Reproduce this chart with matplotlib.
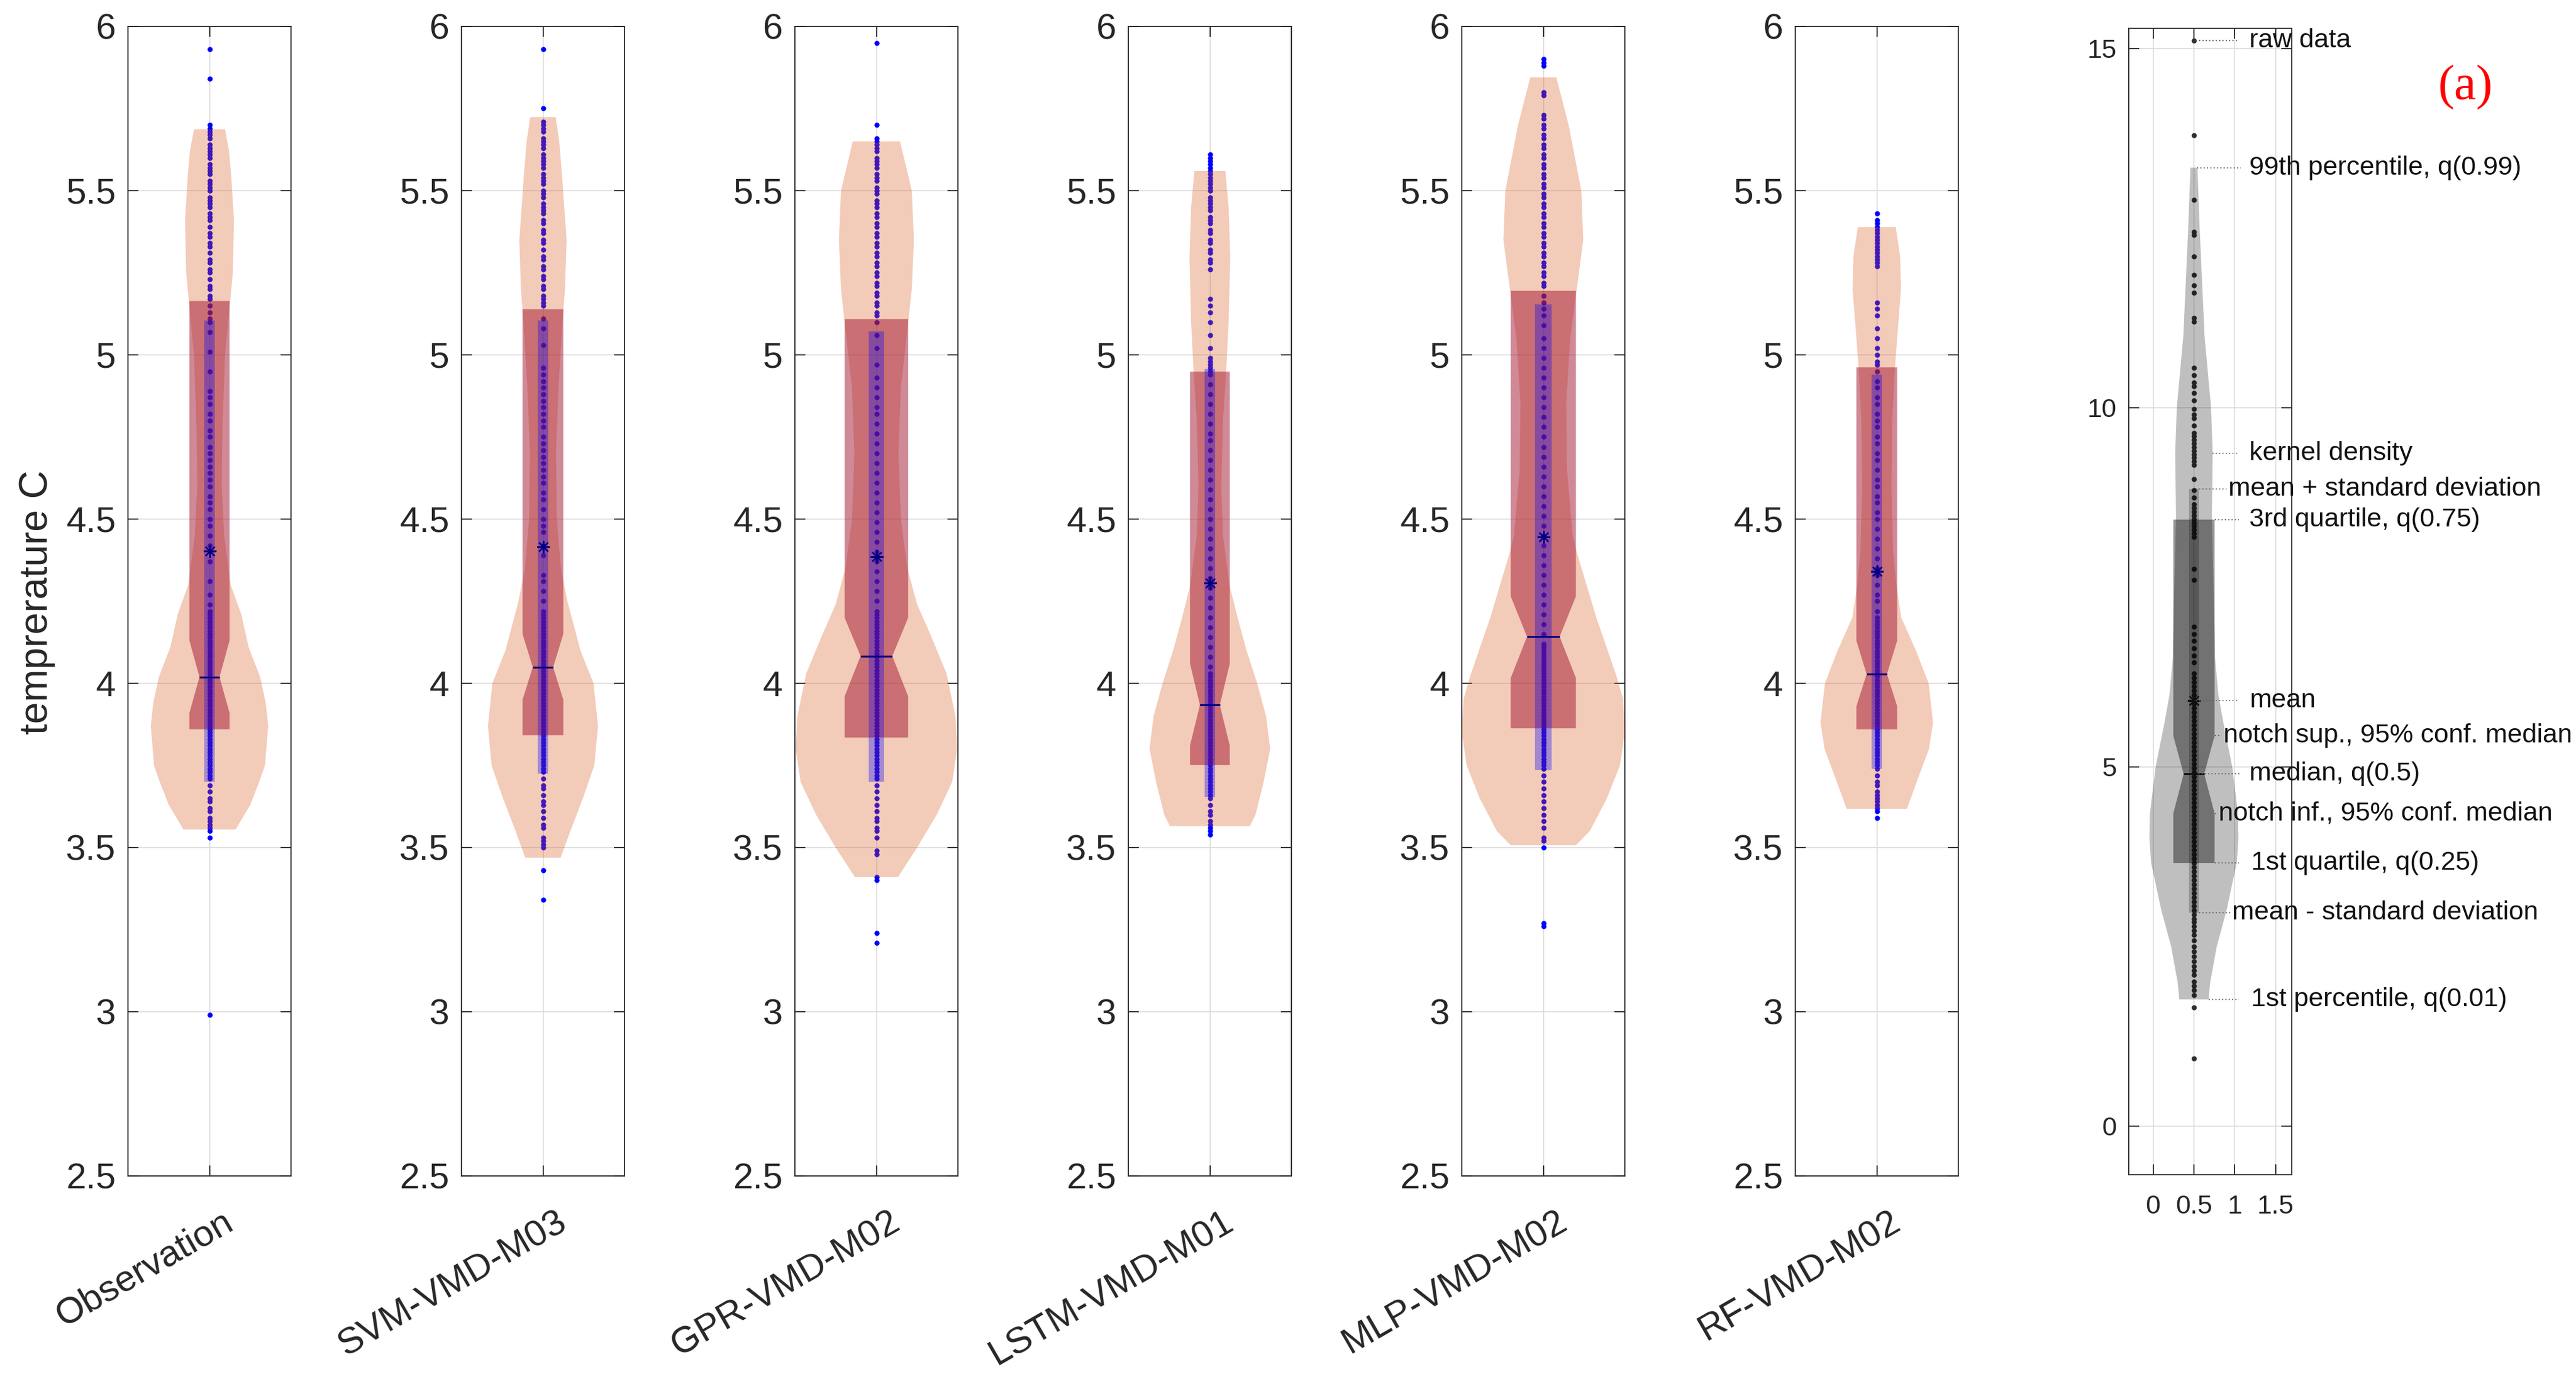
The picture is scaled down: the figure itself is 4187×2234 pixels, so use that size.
import numpy as np
import matplotlib.pyplot as plt
from matplotlib.ticker import FuncFormatter
from matplotlib.transforms import ScaledTranslation

plt.rcParams['font.family'] = ['Liberation Sans', 'DejaVu Sans']

models = ['Observation', 'SVM-VMD-M03', 'GPR-VMD-M02', 'LSTM-VMD-M01', 'MLP-VMD-M02', 'RF-VMD-M02']

# box statistics
q75 = [5.164, 5.139, 5.109, 4.949, 5.195, 4.962]
q25 = [3.860, 3.842, 3.835, 3.751, 3.863, 3.860]
medians = [4.019, 4.049, 4.083, 3.934, 4.142, 4.028]
notch_hi = [4.13, 4.15, 4.20, 4.06, 4.265, 4.13]
notch_lo = [3.91, 3.95, 3.96, 3.81, 4.016, 3.93]
means = [4.402, 4.415, 4.386, 4.305, 4.445, 4.340]
stds = [0.702, 0.690, 0.686, 0.652, 0.709, 0.600]

# kernel density outline: levels and half widths
violin_levels = [
    [5.687, 5.62, 5.55, 5.41, 5.25, 5.17, 5.0, 4.77, 4.6, 4.45, 4.3, 4.21, 4.11, 4.02, 3.94, 3.87, 3.75, 3.7, 3.63, 3.555],
    [5.724, 5.65, 5.55, 5.35, 5.2, 5.1, 4.9, 4.7, 4.5, 4.35, 4.25, 4.1, 4.0, 3.87, 3.75, 3.65, 3.55, 3.469],
    [5.65, 5.5, 5.35, 5.2, 5.1, 4.9, 4.7, 4.5, 4.35, 4.24, 4.15, 4.03, 3.9, 3.8, 3.7, 3.6, 3.5, 3.41],
    [5.56, 5.45, 5.3, 5.1, 4.95, 4.8, 4.6, 4.45, 4.3, 4.2, 4.1, 4.0, 3.9, 3.8, 3.7, 3.6, 3.565],
    [5.845, 5.7, 5.5, 5.35, 5.2, 5.05, 4.85, 4.65, 4.45, 4.4, 4.3, 4.2, 4.1, 4.02, 3.95, 3.85, 3.75, 3.65, 3.55, 3.507],
    [5.389, 5.3, 5.2, 5.1, 4.95, 4.8, 4.6, 4.4, 4.3, 4.2, 4.1, 4.0, 3.88, 3.8, 3.7, 3.618],
]
violin_halfwidth = [
    [0.19, 0.24, 0.265, 0.30, 0.286, 0.256, 0.19, 0.158, 0.15, 0.18, 0.26, 0.39, 0.48, 0.62, 0.69, 0.72, 0.68, 0.61, 0.50, 0.32],
    [0.156, 0.2, 0.233, 0.29, 0.27, 0.24, 0.19, 0.16, 0.17, 0.22, 0.3, 0.46, 0.62, 0.675, 0.63, 0.49, 0.336, 0.217],
    [0.29, 0.434, 0.46, 0.434, 0.39, 0.3, 0.27, 0.3, 0.38, 0.5, 0.66, 0.86, 0.97, 0.99, 0.93, 0.74, 0.50, 0.265],
    [0.19, 0.23, 0.25, 0.23, 0.2, 0.16, 0.14, 0.16, 0.24, 0.34, 0.45, 0.58, 0.69, 0.74, 0.66, 0.56, 0.49],
    [0.16, 0.31, 0.466, 0.49, 0.41, 0.33, 0.28, 0.29, 0.36, 0.41, 0.53, 0.65, 0.79, 0.9, 0.98, 1.0, 0.94, 0.78, 0.57, 0.40],
    [0.233, 0.286, 0.297, 0.265, 0.22, 0.19, 0.18, 0.2, 0.24, 0.3, 0.48, 0.636, 0.69, 0.64, 0.49, 0.37],
]

# raw data points (temperature, C)
obs_pts = [5.93, 5.84,
           5.70, 5.69, 5.68, 5.67, 5.66, 5.64, 5.63, 5.62, 5.61, 5.60, 5.58, 5.57, 5.56, 5.55, 5.53, 5.52, 5.51, 5.50,
           5.48, 5.47, 5.46, 5.45, 5.43, 5.42, 5.41, 5.39, 5.37, 5.36, 5.34, 5.33, 5.31, 5.29, 5.28, 5.26, 5.25, 5.23,
           5.21, 5.20, 5.18, 5.17, 5.15, 5.13, 5.11,
           5.10, 5.07, 5.01, 4.95, 4.89, 4.87, 4.85, 4.82, 4.80, 4.77, 4.75, 4.72, 4.70, 4.68, 4.66, 4.64, 4.62, 4.60,
           4.57, 4.55, 4.53, 4.50, 4.48, 4.45, 4.42, 4.37, 4.31, 4.27, 4.24,
           4.22, 4.21, 4.20, 4.19, 4.18, 4.17, 4.16, 4.15, 4.14, 4.13, 4.12, 4.11, 4.10, 4.09, 4.08, 4.07, 4.06, 4.05,
           4.04, 4.03, 4.02, 4.01, 4.00, 3.99, 3.98, 3.97, 3.96, 3.95, 3.94, 3.93, 3.92, 3.91, 3.90, 3.89, 3.88, 3.87,
           3.86, 3.85, 3.84, 3.83, 3.82, 3.81, 3.80, 3.79, 3.78, 3.77, 3.76, 3.75, 3.74, 3.73, 3.72, 3.71,
           3.69, 3.67, 3.65, 3.64, 3.62, 3.61, 3.59, 3.58, 3.57, 3.56, 3.55, 3.53, 2.99]
svm_pts = [5.93, 5.75,
           5.71, 5.70, 5.69, 5.68, 5.66, 5.65, 5.64, 5.63, 5.61, 5.60, 5.59, 5.58, 5.57, 5.55, 5.54, 5.53, 5.52, 5.50,
           5.49, 5.48, 5.46, 5.45, 5.44, 5.43, 5.41, 5.40, 5.38, 5.37, 5.35, 5.34, 5.32, 5.30, 5.29, 5.27, 5.26, 5.24,
           5.23, 5.21, 5.20, 5.18, 5.17, 5.16, 5.15,
           5.11, 5.08, 5.03, 4.96, 4.94, 4.92, 4.90, 4.88, 4.86, 4.84, 4.82, 4.80, 4.78, 4.75, 4.73, 4.71, 4.69, 4.67,
           4.65, 4.63, 4.61, 4.58, 4.56, 4.53, 4.50, 4.48, 4.46, 4.42, 4.39, 4.33, 4.31, 4.28, 4.25,
           4.22, 4.21, 4.20, 4.19, 4.18, 4.17, 4.16, 4.15, 4.14, 4.13, 4.12, 4.11, 4.10, 4.09, 4.08, 4.07, 4.06, 4.05,
           4.04, 4.03, 4.02, 4.01, 4.00, 3.99, 3.98, 3.97, 3.96, 3.95, 3.94, 3.93, 3.92, 3.91, 3.90, 3.89, 3.88, 3.87,
           3.86, 3.85, 3.84, 3.83, 3.82, 3.81, 3.80, 3.79, 3.78, 3.77, 3.76, 3.75, 3.74, 3.73,
           3.71, 3.69, 3.68, 3.66, 3.64, 3.63, 3.61, 3.59, 3.57, 3.56, 3.53, 3.52, 3.51, 3.50, 3.43, 3.34]
gpr_pts = [5.95, 5.70, 5.66,
           5.65, 5.64, 5.63, 5.62, 5.60, 5.59, 5.58, 5.57, 5.55, 5.54, 5.53, 5.51, 5.50, 5.49, 5.47, 5.46, 5.45, 5.43,
           5.42, 5.40, 5.39, 5.37, 5.36, 5.34, 5.33, 5.31, 5.30, 5.28, 5.27, 5.25, 5.24, 5.22, 5.21, 5.19, 5.18, 5.16,
           5.15, 5.13, 5.12, 5.10,
           5.06, 5.02, 4.97, 4.93, 4.90, 4.87, 4.84, 4.82, 4.79, 4.76, 4.73, 4.70, 4.67, 4.64, 4.61, 4.58, 4.55, 4.52,
           4.49, 4.46, 4.43, 4.40, 4.37, 4.34, 4.31, 4.28, 4.25,
           4.22, 4.21, 4.20, 4.19, 4.18, 4.17, 4.16, 4.15, 4.14, 4.13, 4.12, 4.11, 4.10, 4.09, 4.08, 4.07, 4.06, 4.05,
           4.04, 4.03, 4.02, 4.01, 4.00, 3.99, 3.98, 3.97, 3.96, 3.95, 3.94, 3.93, 3.92, 3.91, 3.90, 3.89, 3.88, 3.87,
           3.86, 3.85, 3.84, 3.83, 3.82, 3.81, 3.80, 3.79, 3.78, 3.77, 3.76, 3.75, 3.74, 3.73, 3.72, 3.71,
           3.69, 3.67, 3.65, 3.63, 3.61, 3.59, 3.58, 3.56, 3.55, 3.53, 3.49, 3.48, 3.41, 3.40, 3.24, 3.21]
lstm_pts = [5.61, 5.60, 5.59, 5.58, 5.57, 5.56, 5.55, 5.54, 5.53, 5.52, 5.51, 5.50, 5.48, 5.47, 5.46, 5.45, 5.44,
            5.42, 5.41, 5.40, 5.38, 5.37, 5.35, 5.34, 5.32, 5.31, 5.29, 5.28, 5.26,
            5.17, 5.15, 5.13, 5.10, 5.06, 5.02, 4.99, 4.98, 4.97, 4.96, 4.95, 4.94,
            4.91, 4.88, 4.85, 4.82, 4.79, 4.76, 4.74, 4.71, 4.68, 4.65, 4.62, 4.59, 4.56, 4.53, 4.50, 4.47, 4.44, 4.41,
            4.38, 4.35, 4.32, 4.29, 4.26, 4.23, 4.20, 4.17, 4.14, 4.11, 4.08, 4.05,
            4.03, 4.02, 4.01, 4.00, 3.99, 3.98, 3.97, 3.96, 3.95, 3.94, 3.93, 3.92, 3.91, 3.90, 3.89, 3.88, 3.87, 3.86,
            3.85, 3.84, 3.83, 3.82, 3.81, 3.80, 3.79, 3.78, 3.77, 3.76, 3.75, 3.74, 3.73, 3.72, 3.71, 3.70, 3.69, 3.68,
            3.67, 3.66, 3.65,
            3.63, 3.61, 3.60, 3.58, 3.57, 3.56, 3.55, 3.54]
mlp_pts = [5.90, 5.89, 5.88, 5.80, 5.79,
           5.73, 5.72, 5.70, 5.69, 5.67, 5.66, 5.64, 5.63, 5.61, 5.60, 5.58, 5.57, 5.55, 5.54, 5.52, 5.51, 5.49, 5.48,
           5.46, 5.45, 5.43, 5.42, 5.40, 5.39, 5.37, 5.36, 5.34, 5.33, 5.31, 5.30, 5.28, 5.27, 5.25, 5.24, 5.22, 5.21,
           5.18, 5.16, 5.14, 5.12, 5.09, 5.05, 5.02, 4.99, 4.96, 4.93, 4.90, 4.87, 4.84, 4.81, 4.78, 4.75, 4.72, 4.69,
           4.66, 4.63, 4.60, 4.57, 4.54, 4.51, 4.48, 4.45, 4.42, 4.39, 4.36, 4.33, 4.30, 4.27, 4.24, 4.21, 4.18, 4.15,
           4.12, 4.11, 4.10, 4.09, 4.08, 4.07, 4.06, 4.05, 4.04, 4.03, 4.02, 4.01, 4.00, 3.99, 3.98, 3.97, 3.96, 3.95,
           3.94, 3.93, 3.92, 3.91, 3.90, 3.89, 3.88, 3.87, 3.86, 3.85, 3.84, 3.83, 3.82, 3.81, 3.80, 3.79, 3.78, 3.77,
           3.76, 3.75, 3.74,
           3.72, 3.70, 3.68, 3.66, 3.64, 3.62, 3.60, 3.58, 3.56, 3.53, 3.52, 3.50, 3.27, 3.26]
rf_pts = [5.43, 5.41, 5.40, 5.39, 5.38, 5.37, 5.36, 5.35, 5.34, 5.33, 5.32, 5.31, 5.30, 5.29, 5.28, 5.27,
          5.16, 5.14, 5.12, 5.08, 5.05, 5.02, 5.00, 4.98, 4.97, 4.95,
          4.92, 4.90, 4.87, 4.85, 4.82, 4.80, 4.78, 4.75, 4.73, 4.70, 4.68, 4.65, 4.62, 4.60, 4.57, 4.55, 4.52, 4.50,
          4.47, 4.44, 4.41, 4.38, 4.35, 4.33, 4.30, 4.27, 4.25, 4.22,
          4.20, 4.19, 4.18, 4.17, 4.16, 4.15, 4.14, 4.13, 4.12, 4.11, 4.10, 4.09, 4.08, 4.07, 4.06, 4.05, 4.04, 4.03,
          4.02, 4.01, 4.00, 3.99, 3.98, 3.97, 3.96, 3.95, 3.94, 3.93, 3.92, 3.91, 3.90, 3.89, 3.88, 3.87, 3.86, 3.85,
          3.84, 3.83, 3.82, 3.81, 3.80, 3.79, 3.78, 3.77, 3.76, 3.75, 3.74,
          3.72, 3.70, 3.69, 3.67, 3.66, 3.65, 3.64, 3.63, 3.62, 3.61, 3.59]
points = [obs_pts, svm_pts, gpr_pts, lstm_pts, mlp_pts, rf_pts]

# legend example panel (gray)
demo_pts = [15.11, 13.79, 12.89, 12.45, 12.40, 12.10, 11.85, 11.70, 11.60, 11.25, 11.20, 10.55, 10.45, 10.35,
            10.30, 10.20, 10.10, 9.98, 9.90, 9.85, 9.75, 9.65, 9.60, 9.55, 9.50, 9.45, 9.40, 9.35, 9.30, 9.25,
            9.20, 9.00, 8.85, 8.75, 8.65, 8.60, 8.55, 8.50, 8.45, 8.40, 8.35, 8.30, 8.25, 8.20, 7.75, 7.60, 6.95,
            6.85, 6.75, 6.65, 6.55, 6.45, 6.30,
            6.24, 6.18, 6.12, 6.06, 6.00, 5.94, 5.88, 5.82, 5.76, 5.70, 5.64, 5.58, 5.52, 5.46, 5.40, 5.34, 5.28,
            5.22, 5.16, 5.10, 5.04, 4.98, 4.92, 4.86, 4.80, 4.74, 4.68, 4.62, 4.56, 4.50, 4.44, 4.38, 4.32, 4.26,
            4.20, 4.14, 4.08, 4.02, 3.96, 3.90, 3.84, 3.78, 3.72, 3.66, 3.60, 3.54, 3.48, 3.42, 3.36, 3.30, 3.24,
            3.18, 3.12, 3.06, 3.00, 2.94, 2.88,
            2.84, 2.78, 2.72, 2.66, 2.58, 2.50, 2.43, 2.36, 2.29, 2.22, 2.16, 2.10, 2.01, 1.95, 1.89, 1.82, 1.65, 0.94]
demo_levels = [13.34, 12.5, 11.0, 10.0, 9.36, 8.5, 7.5, 6.5, 6.0, 5.62, 5.0, 4.35, 4.0, 3.66, 3.0, 2.5, 2.0, 1.76]
demo_halfwidth = [0.043, 0.07, 0.13, 0.21, 0.23, 0.22, 0.24, 0.26, 0.30, 0.36, 0.47, 0.54, 0.546, 0.525, 0.40, 0.28, 0.20, 0.18]
demo_stats = dict(q25=3.66, q75=8.44, med=4.90, nlo=4.35, nhi=5.43, mean=5.92, std=2.95, q01=1.76, q99=13.34, kd=9.36)

demo_labels = ['raw data', '99th percentile, q(0.99)', 'kernel density', 'mean + standard deviation',
               '3rd quartile, q(0.75)', 'mean', 'notch sup., 95% conf. median', 'median, q(0.5)',
               'notch inf., 95% conf. median', '1st quartile, q(0.25)', 'mean - standard deviation',
               '1st percentile, q(0.01)']

box_half = [0.246, 0.25, 0.39, 0.244, 0.40, 0.25]

red_style = dict(pt='#0000ff', vio='#d95319', va=0.3, box='#a2142f', ba=0.5, std='#0000ff', sa=0.33, med='#000080')
gray_style = dict(pt='#303030', vio='#000000', va=0.25, box='#000000', ba=0.4, std='#000000', sa=0.22, med='#101010')

W, H, DPI = 4187, 2234, 100
fig = plt.figure(figsize=(W / DPI, H / DPI), dpi=DPI)
TXT = '#262626'


def draw_violin(ax, x0, vy, vw, pts, lo, hi, med, nlo, nhi, mu, sd, bw, st):
    # points first, the translucent patches tint them
    ax.plot(np.full(len(pts), x0), pts, 'o', ms=6, mfc=st['pt'], mec='none', zorder=2)
    vw = np.asarray(vw)
    ax.fill_betweenx(vy, x0 - vw, x0 + vw, facecolor=st['vio'], alpha=st['va'], lw=0, zorder=3)
    bx = [x0 - bw, x0 + bw, x0 + bw, x0 + bw / 2, x0 + bw, x0 + bw, x0 - bw, x0 - bw, x0 - bw / 2, x0 - bw]
    by = [hi, hi, nhi, med, nlo, lo, lo, nlo, med, nhi]
    ax.fill(bx, by, facecolor=st['box'], alpha=st['ba'], lw=0, zorder=4)
    ax.fill_between([x0 - bw / 4, x0 + bw / 4], mu - sd, mu + sd, facecolor=st['std'], alpha=st['sa'], lw=0, zorder=5)
    ax.plot([x0 - bw / 2, x0 + bw / 2], [med, med], color=st['med'], lw=2.2, zorder=6, solid_capstyle='butt')
    ax.plot(x0, mu, marker=(8, 2, 0), ms=15, mew=1.6, color=st['med'], zorder=7)


def style_axes(ax):
    for s in ax.spines.values():
        s.set_color(TXT)
        s.set_linewidth(1.3)
    ax.tick_params(direction='in', length=12, width=1.3, color=TXT, top=True, right=True,
                   labelcolor=TXT)
    ax.grid(True, color='#dcdcdc', lw=1.2)
    ax.set_axisbelow(True)


fmt = FuncFormatter(lambda v, p: '%g' % v)
bottom = 1 - 1912 / H
height = (1912 - 43) / H
for i, name in enumerate(models):
    ax = fig.add_axes([(208 + 542 * i) / W, bottom, 265 / W, height])
    draw_violin(ax, 0, violin_levels[i], violin_halfwidth[i], points[i], q25[i], q75[i], medians[i],
                notch_lo[i], notch_hi[i], means[i], stds[i], box_half[i], red_style)
    ax.set_xlim(-1, 1)
    ax.set_ylim(2.5, 6)
    ax.set_yticks(np.arange(2.5, 6.01, 0.5))
    ax.yaxis.set_major_formatter(fmt)
    ax.set_xticks([0])
    style_axes(ax)
    ax.tick_params(axis='y', labelsize=42, pad=14)
    ax.tick_params(axis='x', labelbottom=False)
    off = ScaledTranslation(20 / DPI, -47 / DPI, fig.dpi_scale_trans)
    ax.text(0, 0, name, transform=ax.get_xaxis_transform() + off, rotation=30, rotation_mode='anchor',
            ha='right', va='top', fontsize=43, color=TXT, clip_on=False)

fig.text(60 / W, 1 - 979 / H, 'temprerature C', rotation=90, ha='center', va='center', fontsize=46, color=TXT)

# legend panel
axd = fig.add_axes([3460 / W, 1 - 1910 / H, 265 / W, (1910 - 46) / H])
d = demo_stats
bw = 0.253
draw_violin(axd, 0.5, demo_levels, demo_halfwidth, demo_pts, d['q25'], d['q75'], d['med'], d['nlo'], d['nhi'],
            d['mean'], d['std'], bw, gray_style)
axd.set_xlim(-0.3, 1.7)
axd.set_ylim(-0.68, 15.28)
axd.set_yticks([0, 5, 10, 15])
axd.set_xticks([0, 0.5, 1, 1.5])
axd.xaxis.set_major_formatter(fmt)
style_axes(axd)
axd.tick_params(axis='y', labelsize=31, pad=14)
axd.tick_params(axis='x', labelsize=31, pad=23)

ann_y = [demo_pts[0], d['q99'], d['kd'], d['mean'] + d['std'], d['q75'], d['mean'], d['nhi'], d['med'],
         d['nlo'], d['q25'], d['mean'] - d['std'], d['q01']]
ann_from = [0.52, 0.54, 0.73, 0.52, 0.5 + bw, 0.52, 0.5 + bw, 0.55, 0.5 + bw, 0.5 + bw, 0.52, 0.68]
ann_to = [1.05, 1.07, 1.05, 0.90, 1.05, 1.05, 0.84, 1.07, 0.78, 1.05, 0.95, 1.05]
ann_tx = [1.18, 1.18, 1.18, 0.92, 1.18, 1.18, 0.86, 1.18, 0.80, 1.20, 0.97, 1.20]
for lab, y, x0, x1, xt in zip(demo_labels, ann_y, ann_from, ann_to, ann_tx):
    axd.plot([x0, x1], [y, y], ls=(0, (1, 2)), color='#606060', lw=1.3, zorder=8, clip_on=False)
    axd.text(xt, y, lab, ha='left', va='center', fontsize=31, color='#111111', zorder=9, clip_on=False)

fig.text(4007 / W, 1 - 142 / H, '(a)', color='red', fontsize=58, ha='center', va='center',
         family=['Liberation Serif', 'DejaVu Serif'])

fig.savefig('out.png', dpi=DPI)
